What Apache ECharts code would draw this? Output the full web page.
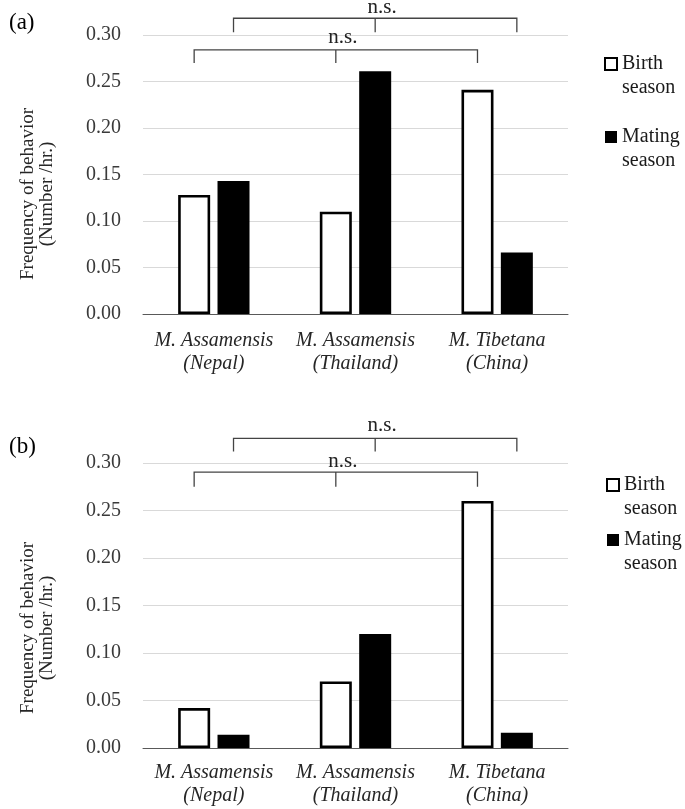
<!DOCTYPE html>
<html>
<head>
<meta charset="utf-8">
<script src="https://cdn.jsdelivr.net/npm/echarts@6/dist/echarts.min.js"></script>
<style>
html,body{margin:0;padding:0;background:#fff;}
#chart{width:685px;height:809px;}
</style>
</head>
<body>
<div id="chart"></div>
<script>
// ---- data ----
const categories = ['M. Assamensis\n(Nepal)', 'M. Assamensis\n(Thailand)', 'M. Tibetana\n(China)'];
const birthA  = [0.128, 0.110, 0.241];
const matingA = [0.143, 0.261, 0.066];
const birthB  = [0.042, 0.070, 0.260];
const matingB = [0.014, 0.120, 0.016];
const yMin = 0, yMax = 0.30, yStep = 0.05;
const seriesNames = ['Birth season', 'Mating season'];
const panelLabels = ['(a)', '(b)'];
const yTitle = 'Frequency of behavior\n(Number /hr.)';
// significance brackets: which series' bars they join, and heights in axis units
const bracketsA = [
  {series: 1, y: 0.318, tickY: 0.303, textY: 0.330, label: 'n.s.'},
  {series: 0, y: 0.284, tickY: 0.270, textY: 0.297, label: 'n.s.'}
];
const bracketsB = [
  {series: 1, y: 0.326, tickY: 0.312, textY: 0.339, label: 'n.s.'},
  {series: 0, y: 0.2905, tickY: 0.275, textY: 0.302, label: 'n.s.'}
];

const FONT = '"Liberation Serif", "Times New Roman", serif';

const chart = echarts.init(document.getElementById('chart'), null, {renderer: 'canvas'});

function xAxisCfg(gridIndex, margin) {
  return {
    type: 'category', gridIndex, data: categories,
    axisLine: {lineStyle: {color: '#595959', width: 1}},
    axisTick: {show: false},
    axisLabel: {interval: 0, margin, fontFamily: FONT, fontStyle: 'italic', fontSize: 20,
                lineHeight: 23, color: '#262626'}
  };
}
function yAxisCfg(gridIndex, shift) {
  return {
    type: 'value', gridIndex, min: yMin, max: yMax, interval: yStep,
    axisLine: {show: false}, axisTick: {show: false},
    splitLine: {lineStyle: {color: '#d9d9d9', width: 1}},
    axisLabel: {margin: 22, fontFamily: FONT, fontSize: 20, color: '#3a3a3a',
                formatter: v => v.toFixed(2)},
    name: yTitle, nameLocation: 'middle', nameRotate: 90, nameGap: 86,
    nameTextStyle: {fontFamily: FONT, fontSize: 19, lineHeight: 19, color: '#262626',
                    padding: [0, shift, 0, 0]}
  };
}
function barSeries(name, data, idx, isBirth) {
  return {
    name, type: 'bar', xAxisIndex: idx, yAxisIndex: idx, data,
    barWidth: 32, barGap: '23%',
    itemStyle: isBirth ? {color: '#ffffff', borderColor: '#000000', borderWidth: 2.6}
                       : {color: '#000000'},
    emphasis: {disabled: true}
  };
}
function legendCfg(top, left, gap) {
  return {
    orient: 'vertical', left, top, padding: 0, itemGap: gap,
    itemWidth: 12, itemHeight: 12, icon: 'rect',
    data: seriesNames,
    // leading blank line keeps the square level with the first text line
    formatter: n => ' \n' + n.replace(' ', '\n'),
    textStyle: {fontFamily: FONT, fontSize: 20, lineHeight: 24, color: '#1a1a1a'}
  };
}

chart.setOption({
  animation: false,
  title: [
    {text: panelLabels[0], left: 4, top: 6, textStyle: {fontFamily: FONT, fontSize: 23, fontWeight: 'normal', color: '#000'}},
    {text: panelLabels[1], left: 4, top: 430, textStyle: {fontFamily: FONT, fontSize: 23, fontWeight: 'normal', color: '#000'}}
  ],
  legend: [legendCfg(28, 604, 1), legendCfg(449, 606, -17)],
  grid: [
    {left: 143, top: 35, width: 425, height: 279},
    {left: 143, top: 463, width: 425, height: 285}
  ],
  xAxis: [xAxisCfg(0, 15), xAxisCfg(1, 13)],
  yAxis: [yAxisCfg(0, 39), yAxisCfg(1, 45)],
  series: [
    barSeries(seriesNames[0], birthA, 0, true),
    barSeries(seriesNames[1], matingA, 0, false),
    barSeries(seriesNames[0], birthB, 1, true),
    barSeries(seriesNames[1], matingB, 1, false)
  ]
});

// ---- significance brackets, positioned from the rendered bars and the y scale ----
function barCenter(seriesIndex, dataIndex) {
  const l = chart.getModel().getSeriesByIndex(seriesIndex).getData().getItemLayout(dataIndex);
  return l.x + l.width / 2;
}
const graphics = [];
function addBrackets(list, panel) {
  list.forEach(b => {
    const si = panel * 2 + b.series;
    const xs = [0, 1, 2].map(i => barCenter(si, i));
    const y = chart.convertToPixel({yAxisIndex: panel}, b.y);
    const ty = chart.convertToPixel({yAxisIndex: panel}, b.tickY);
    const txtY = chart.convertToPixel({yAxisIndex: panel}, b.textY);
    const ls = {stroke: '#444', lineWidth: 1.3};
    graphics.push({type: 'polyline', silent: true, shape: {points: [[xs[0], ty], [xs[0], y], [xs[2], y], [xs[2], ty]]}, style: ls});
    graphics.push({type: 'line', silent: true, shape: {x1: xs[1], y1: y, x2: xs[1], y2: ty}, style: ls});
    graphics.push({type: 'text', silent: true, x: xs[1] + 7, y: txtY,
      style: {text: b.label, font: '21px ' + FONT, fill: '#222', align: 'center', verticalAlign: 'middle'}});
  });
}
addBrackets(bracketsA, 0);
addBrackets(bracketsB, 1);
chart.setOption({graphic: graphics});
</script>
</body>
</html>
